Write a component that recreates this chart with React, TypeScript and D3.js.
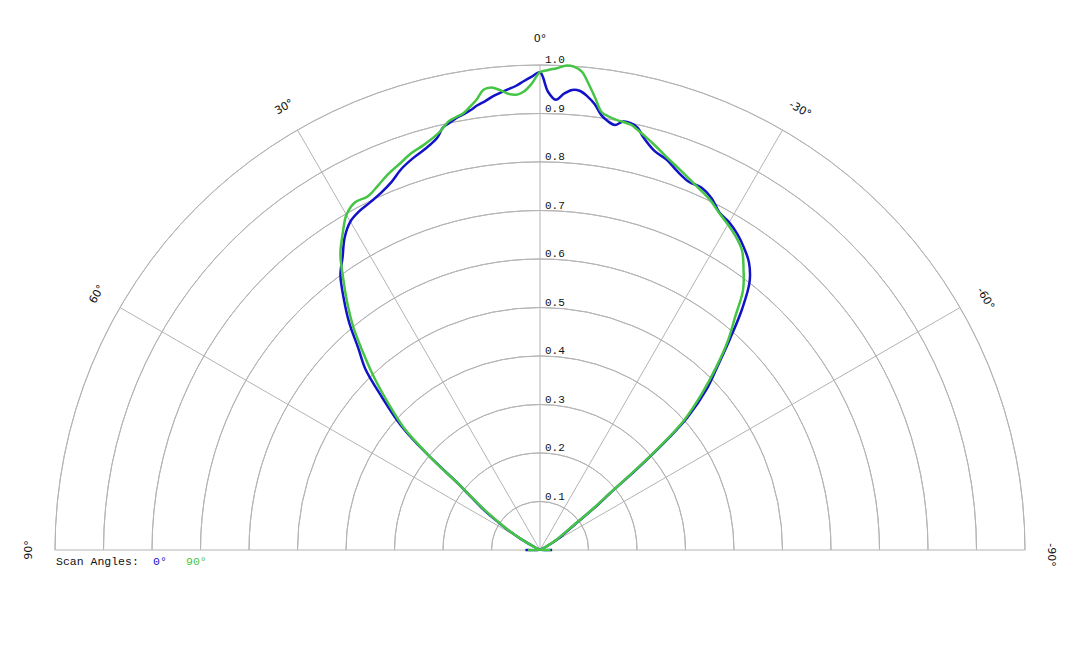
import { useEffect, useRef } from 'react'
import * as d3 from 'd3'

// angles in degrees, positive to the left of 0°
const angles = [
  -90, -80, -70, -65, -60, -58, -56, -54, -52, -51, -50, -49, -48,
  -46, -44, -42, -40, -38, -36, -34, -32, -30, -28, -26, -24, -22, -20, -18, -16, -14,
  -13, -12, -11, -10, -9, -8, -7, -6, -5, -4, -3, -2, -1,
  0,
  1, 2, 3, 4, 5, 6, 7, 8, 9, 10, 11, 12, 13,
  14, 16, 18, 20, 22, 24, 26, 28, 30, 32, 34, 36, 38, 40, 42, 44, 46,
  48, 49, 50, 51, 52, 54, 56, 58, 60, 65, 70, 80, 90,
]

// scan angle 0°
const scan0 = [
  0.025, 0.002, 0.002, 0.004, 0.025, 0.045, 0.06, 0.085, 0.15, 0.185, 0.27, 0.35, 0.41,
  0.478, 0.527, 0.585, 0.648, 0.702, 0.733, 0.752, 0.768, 0.78, 0.788, 0.807, 0.818, 0.819, 0.83, 0.846, 0.856, 0.878,
  0.894, 0.9, 0.9, 0.89, 0.895, 0.906, 0.926, 0.94, 0.95, 0.951, 0.942, 0.929, 0.945,
  0.985,
  0.976, 0.967, 0.958, 0.952, 0.946, 0.94, 0.932, 0.926, 0.918, 0.912, 0.907, 0.9, 0.893,
  0.876, 0.86, 0.849, 0.836, 0.818, 0.806, 0.798, 0.792, 0.782, 0.76, 0.728, 0.7, 0.657, 0.612, 0.56, 0.518, 0.452,
  0.39, 0.345, 0.28, 0.215, 0.188, 0.15, 0.11, 0.078, 0.045, 0.004, 0.002, 0.002, 0.03,
]

// scan angle 90°
const scan90 = [
  0.022, 0.002, 0.002, 0.004, 0.022, 0.04, 0.055, 0.08, 0.145, 0.18, 0.26, 0.34, 0.4,
  0.464, 0.522, 0.578, 0.625, 0.68, 0.714, 0.745, 0.762, 0.775, 0.787, 0.802, 0.813, 0.824, 0.837, 0.85, 0.866, 0.882,
  0.89, 0.897, 0.899, 0.901, 0.905, 0.912, 0.938, 0.965, 0.99, 0.999, 1.0, 0.994, 0.99,
  0.985,
  0.962, 0.946, 0.94, 0.943, 0.952, 0.959, 0.956, 0.938, 0.925, 0.914, 0.909, 0.904, 0.892,
  0.882, 0.869, 0.86, 0.847, 0.836, 0.822, 0.811, 0.812, 0.798, 0.768, 0.736, 0.69, 0.645, 0.598, 0.543, 0.49, 0.434,
  0.38, 0.335, 0.285, 0.215, 0.185, 0.145, 0.105, 0.075, 0.043, 0.004, 0.002, 0.002, 0.025,
]

const ringValues = [0.1, 0.2, 0.3, 0.4, 0.5, 0.6, 0.7, 0.8, 0.9, 1.0]
const spokeAngles = [90, 60, 30, 0, -30, -60, -90]

const seriesNames = ['0°', '90°']
const seriesColors = ['#1212c8', '#46c446']

export default function App() {
  const svgRef = useRef<SVGSVGElement>(null)
  const width = 1080
  const height = 648

  useEffect(() => {
    document.body.style.margin = '0'
    if (!svgRef.current) return
    const svg = d3.select(svgRef.current)
    svg.selectAll('*').remove()

    const cx = 540
    const cy = 550
    const R = 485
    const grid = '#b4b4b4'
    const rad = (deg: number) => (deg * Math.PI) / 180

    const r = d3.scaleLinear().domain([0, 1]).range([0, R])

    const g = svg.append('g').attr('transform', `translate(${cx},${cy})`)

    // rings
    const ringArc = d3
      .arc<number>()
      .innerRadius((d) => r(d))
      .outerRadius((d) => r(d))
      .startAngle(-Math.PI / 2)
      .endAngle(Math.PI / 2)

    g.selectAll('.ring')
      .data(ringValues)
      .enter()
      .append('path')
      .attr('class', 'ring')
      .attr('d', (d) => ringArc(d) || '')
      .attr('fill', 'none')
      .attr('stroke', grid)
      .attr('stroke-width', 1)

    // spokes
    g.selectAll('.spoke')
      .data(spokeAngles)
      .enter()
      .append('line')
      .attr('class', 'spoke')
      .attr('x1', 0)
      .attr('y1', 0)
      .attr('x2', (d) => -r(1) * Math.sin(rad(d)))
      .attr('y2', (d) => -r(1) * Math.cos(rad(d)))
      .attr('stroke', grid)
      .attr('stroke-width', 1)

    // ring value labels
    g.selectAll('.rlabel')
      .data(ringValues)
      .enter()
      .append('text')
      .attr('class', 'rlabel')
      .attr('x', 5)
      .attr('y', (d) => -r(d) - 2)
      .attr('font-family', '"Liberation Mono", monospace')
      .attr('font-size', '11px')
      .attr('fill', '#111')
      .text((d) => d.toFixed(1))

    // angle labels
    const labelR = 512
    g.selectAll('.alabel')
      .data(spokeAngles)
      .enter()
      .append('text')
      .attr('class', 'alabel')
      .attr('transform', (d) => {
        const x = -labelR * Math.sin(rad(d))
        const y = -labelR * Math.cos(rad(d))
        return `translate(${x},${y}) rotate(${-d})`
      })
      .attr('text-anchor', 'middle')
      .attr('dx', (d) => (d < 0 ? 5 : 0))
      .attr('dy', '0.35em')
      .attr('font-family', '"DejaVu Sans", sans-serif')
      .attr('font-size', '11px')
      .attr('fill', '#111')
      .text((d) => `${d}°`)

    // curves
    const series = [scan0, scan90]
    const line = d3
      .lineRadial<number>()
      .angle((_, i) => rad(-angles[i]))
      .radius((d) => r(d))
      .curve(d3.curveCatmullRom.alpha(0.5))

    g.selectAll('.curve')
      .data(series)
      .enter()
      .append('path')
      .attr('class', 'curve')
      .attr('d', (d) => line(d) || '')
      .attr('fill', 'none')
      .attr('stroke', (_, i) => seriesColors[i])
      .attr('stroke-width', 2.5)
      .attr('stroke-linejoin', 'round')

    // legend
    const legend = svg
      .append('text')
      .attr('x', 56)
      .attr('y', 565)
      .attr('font-family', '"Liberation Mono", monospace')
      .attr('font-size', '11.5px')
      .attr('fill', '#111')
    legend.append('tspan').text('Scan Angles:')
    const legendX = [153, 186]
    seriesNames.forEach((name, i) => {
      legend
        .append('tspan')
        .attr('x', legendX[i])
        .attr('fill', seriesColors[i])
        .text(name)
    })
  }, [])

  return <svg ref={svgRef} width={width} height={height} style={{ display: 'block', background: '#fff' }} />
}
